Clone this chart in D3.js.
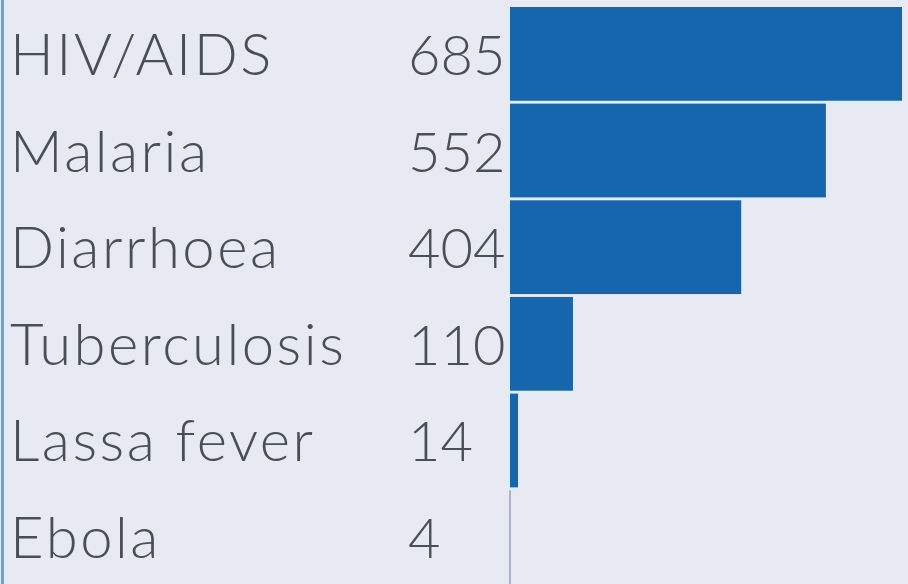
<!DOCTYPE html>
<html>
<head>
<meta charset="utf-8">
<script src="https://cdn.jsdelivr.net/npm/d3@7"></script>
<style>
  html, body { margin: 0; padding: 0; background: #e7eaf3; }
  svg { display: block; }
  .label, .value { font-family: Lato, "Open Sans", sans-serif; font-weight: 300; fill: #4a4e55; }
</style>
</head>
<body>
<svg width="908" height="584"></svg>
<script>
var diseases = ["HIV/AIDS", "Malaria", "Diarrhoea", "Tuberculosis", "Lassa fever", "Ebola"];
var deaths = [685, 552, 404, 110, 14, 4];

var svgWidth = 908, svgHeight = 584;
var margin = { top: 7, right: 6, bottom: 0, left: 510 },
	width = svgWidth - margin.left - margin.right,
	height = svgHeight - margin.top - margin.bottom;

var data = diseases.map(function (d, i) { return { name: d, value: deaths[i] }; });

var xScale = d3.scaleLinear()
	.domain([0, 685])
	.range([0, width]);

var yScale = d3.scaleBand()
	.domain(diseases)
	.range([0, height])
	.paddingInner(0.03)
	.paddingOuter(0);

var svg = d3.select("svg");

// left edge line
svg.append("rect")
	.attr("x", 1).attr("y", 0)
	.attr("width", 3).attr("height", svgHeight)
	.attr("fill", "#5aa9dc");

var g = svg.append("g")
	.attr("transform", "translate(" + margin.left + "," + margin.top + ")");

// baseline
g.append("line")
	.attr("x1", 0).attr("x2", 0)
	.attr("y1", yScale("Ebola")).attr("y2", height)
	.attr("stroke", "#a9b6c8")
	.attr("stroke-width", 2);

g.selectAll(".bar")
	.data(data)
	.enter().append("rect")
		.attr("class", "bar")
		.attr("x", 0)
		.attr("y", function (d) { return yScale(d.name); })
		.attr("width", function (d) { return d.value < 10 ? 0 : xScale(d.value); })
		.attr("height", yScale.bandwidth())
		.attr("fill", "#1666ad");

svg.selectAll(".label")
	.data(data)
	.enter().append("text")
		.attr("class", "label")
		.attr("x", 10)
		.attr("y", function (d) { return margin.top + yScale(d.name) + yScale.bandwidth() / 2 + 21; })
		.style("font-size", "58px")
		.style("letter-spacing", "2.5px")
		.text(function (d) { return d.name; });

svg.selectAll(".value")
	.data(data)
	.enter().append("text")
		.attr("class", "value")
		.attr("x", 408)
		.attr("y", function (d) { return margin.top + yScale(d.name) + yScale.bandwidth() / 2 + 21; })
		.style("font-size", "56px")
		.text(function (d) { return d.value; });
</script>
</body>
</html>
